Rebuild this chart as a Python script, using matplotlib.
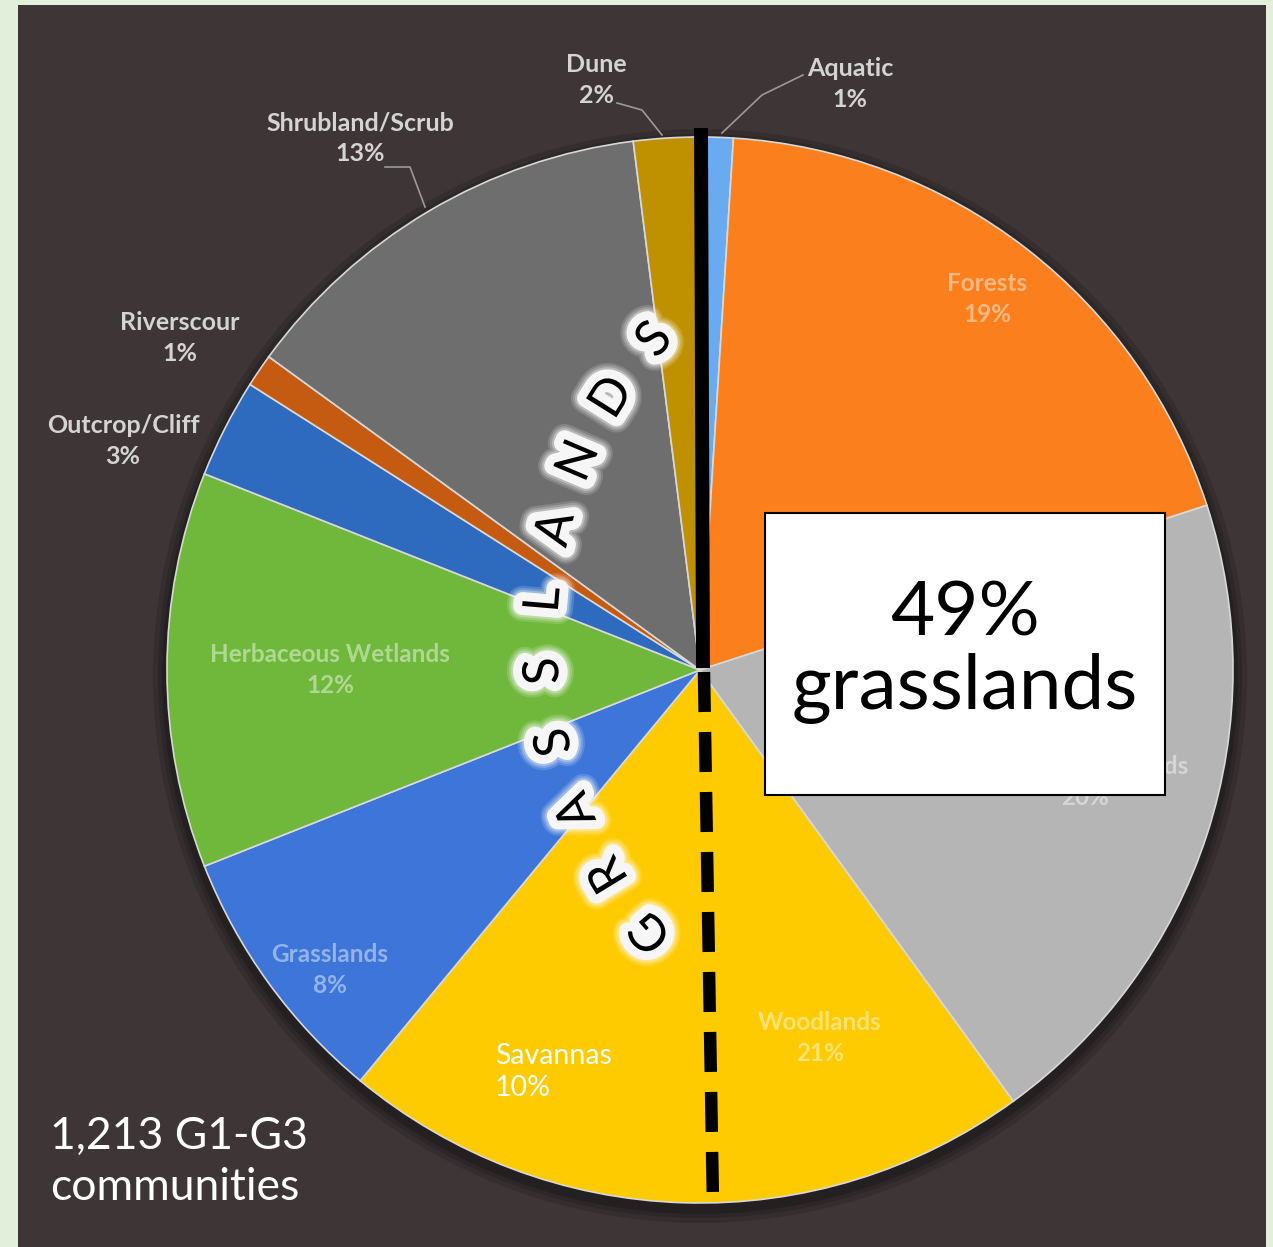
import numpy as np
import matplotlib
matplotlib.use("Agg")
import matplotlib.pyplot as plt
import matplotlib.patheffects as pe
from matplotlib.patches import Rectangle, Circle

plt.rcParams['font.family'] = ['Lato', 'DejaVu Sans']

# data (clockwise from 12 o'clock)
names = ['Aquatic', 'Forests', 'Forested Wetlands', 'Woodlands', 'Grasslands',
         'Herbaceous Wetlands', 'Outcrop/Cliff', 'Riverscour', 'Shrubland/Scrub', 'Dune']
shares = [1, 19, 20, 21, 8, 12, 3, 1, 13, 2]
colors = ['#6aaaf0', '#fb7f1c', '#b5b5b5', '#fecb00', '#3d76d8',
          '#70b83c', '#2e6bbf', '#c55a11', '#6e6e6e', '#bf9000']
savanna_share = 10
grass_total = 49
n_communities = '1,213'

W, H = 1273, 1247
def Y(y):
    return H - y

fig = plt.figure(figsize=(W / 100, H / 100), dpi=100)
fig.patch.set_facecolor('#e2efda')
ax = fig.add_axes([0, 0, 1, 1])

# dark panel
ax.add_patch(Rectangle((18, 0), 1248, H - 5, facecolor='#3e3536', edgecolor='none', zorder=0))

cx, cy, R = 700, Y(670), 533
# soft shadow
for k, a in zip([14, 9, 5], [0.25, 0.35, 0.5]):
    ax.add_patch(Circle((cx, cy - 6), R + k, facecolor='#1e1a1b', alpha=a, edgecolor='none', zorder=1))

wedges, _ = ax.pie(shares, colors=colors, startangle=90, counterclock=False,
                   center=(cx, cy), radius=R,
                   wedgeprops=dict(edgecolor='#d8d8d8', linewidth=1.2, zorder=2))
ax.set_xlim(0, W)
ax.set_ylim(0, H)
ax.set_aspect('equal')
ax.axis('off')

# slice labels (inside = faint, outside = light grey)
lab_pos = {
    'Aquatic': (850, 84, 'out'),
    'Forests': (987, 299, 'in'),
    'Forested Wetlands': (1085, 782, 'in'),
    'Woodlands': (820, 1038, 'in'),
    'Grasslands': (330, 970, 'in'),
    'Herbaceous Wetlands': (330, 670, 'in'),
    'Outcrop/Cliff': (123, 441, 'out'),
    'Riverscour': (180, 338, 'out'),
    'Shrubland/Scrub': (360, 138, 'out'),
    'Dune': (596, 80, 'out'),
}
for name, v in zip(names, shares):
    x, y, kind = lab_pos[name]
    if kind == 'in':
        ax.text(x, Y(y), f'{name}\n{v}%', ha='center', va='center', fontsize=17.5,
                color='white', alpha=0.45, fontweight='bold', linespacing=1.45, zorder=3)
    else:
        ax.text(x, Y(y), f'{name}\n{v}%', ha='center', va='center', fontsize=18,
                color='#d4d4d4', fontweight='bold', linespacing=1.4, zorder=3)

# leader lines
lc = '#9a9a9a'
ax.plot([803, 762, 722], [Y(75), Y(95), Y(133)], color=lc, lw=1.2, zorder=3)
ax.plot([617, 642, 662], [Y(103), Y(110), Y(135)], color=lc, lw=1.2, zorder=3)
ax.plot([385, 410, 425], [Y(167), Y(167), Y(207)], color=lc, lw=1.2, zorder=3)

# grassland divider lines
ax.plot([701, 703], [Y(128), Y(668)], color='black', lw=10, solid_capstyle='butt', zorder=4)
ax.plot([704, 713], [Y(672), Y(1205)], color='black', lw=9, dashes=(3.2, 1.6), zorder=4)

# Savannas note
ax.text(495, Y(1072), f'Savannas\n{savanna_share}%', ha='left', va='center', fontsize=20.5,
        color='white', linespacing=1.3, zorder=5)

# GRASSLANDS along an arc
word = 'GRASSLANDS'
acx, acy, ar = 995, Y(638), 452
angs = np.linspace(220.5, 138.8, len(word))
glow = [pe.withStroke(linewidth=22, foreground='white', alpha=0.15),
        pe.withStroke(linewidth=19, foreground='white', alpha=0.2),
        pe.withStroke(linewidth=16, foreground='white', alpha=0.3),
        pe.withStroke(linewidth=13, foreground='#f6f6f6')]
for ch, a in zip(word, angs):
    t = np.deg2rad(a)
    ax.text(acx + ar * np.cos(t), acy + ar * np.sin(t), ch, rotation=a - 90,
            ha='center', va='center', fontsize=36, color='black', zorder=6,
            rotation_mode='anchor', path_effects=glow)

# 49% box
ax.add_patch(Rectangle((765, Y(795)), 400, 282, facecolor='white', edgecolor='black', lw=1.5, zorder=7))
ax.text(965, Y(652), f'{grass_total}%\ngrasslands', ha='center', va='center', fontsize=55,
        color='black', linespacing=1.08, zorder=8)

# community count
ax.text(50, Y(1162), f'{n_communities} G1-G3\ncommunities', ha='left', va='center', fontsize=32,
        color='white', linespacing=1.3, zorder=5)

fig.savefig('out.png', dpi=100, facecolor=fig.get_facecolor())
